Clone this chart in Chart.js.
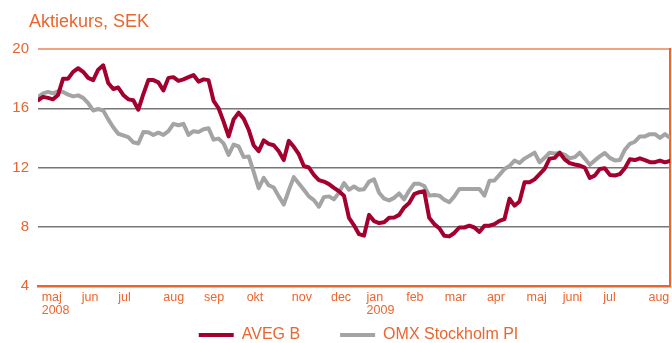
<!DOCTYPE html>
<html>
<head>
<meta charset="utf-8">
<script src="https://cdn.jsdelivr.net/npm/chart.js@4/dist/chart.umd.min.js"></script>
<style>
  body { margin: 0; background: #fff; }
  canvas { display: block; }
</style>
</head>
<body>
<canvas id="kurs" width="672" height="343"></canvas>
<script>
// share price, SEK - sampled roughly twice a week from May 2008 to Aug 2009
const aveg = [
  16.54, 16.77, 16.7, 16.6, 16.9, 18.0, 18.0, 18.46, 18.7, 18.46,
  18.05, 17.9, 18.6, 18.9, 17.7, 17.3, 17.4, 16.9, 16.6, 16.54,
  15.9, 16.95, 17.9, 17.9, 17.75, 17.2, 18.05, 18.1, 17.85, 17.95,
  18.1, 18.24, 17.8, 17.95, 17.9, 16.5, 16.0, 15.1, 14.1, 15.25,
  15.7, 15.3, 14.55, 13.5, 13.1, 13.83, 13.6, 13.5, 13.1, 12.5,
  13.8, 13.4, 12.9, 12.1, 12.0, 11.5, 11.15, 11.05, 10.88, 10.62,
  10.4, 10.1, 8.6, 8.1, 7.5, 7.4, 8.8, 8.38, 8.25, 8.3,
  8.6, 8.63, 8.8, 9.3, 9.6, 10.2, 10.33, 10.4, 8.6, 8.18,
  7.9, 7.39, 7.35, 7.58, 7.95, 7.95, 8.07, 7.95, 7.65, 8.07,
  8.07, 8.18, 8.4, 8.52, 9.9, 9.42, 9.7, 11.0, 11.0, 11.2,
  11.55, 11.9, 12.6, 12.65, 13.0, 12.55, 12.3, 12.2, 12.13, 12.0,
  11.3, 11.45, 11.9, 11.95, 11.5, 11.46, 11.55, 11.95, 12.55, 12.5,
  12.62, 12.5, 12.36, 12.36, 12.47, 12.35, 12.45
]
const omx = [
  16.77, 17.0, 17.1, 17.0, 17.15, 17.1, 16.92, 16.8, 16.87, 16.7,
  16.35, 15.85, 15.95, 15.85, 15.25, 14.72, 14.28, 14.17, 14.05, 13.7,
  13.62, 14.4, 14.38, 14.2, 14.35, 14.2, 14.45, 14.95, 14.85, 14.95,
  14.2, 14.45, 14.4, 14.58, 14.65, 13.88, 13.95, 13.63, 12.85, 13.55,
  13.42, 12.7, 12.75, 11.7, 10.6, 11.3, 10.8, 10.65, 10.05, 9.5,
  10.46, 11.35, 10.92, 10.5, 10.05, 9.8, 9.35, 10.0, 10.05, 9.85,
  10.3, 10.95, 10.5, 10.72, 10.5, 10.53, 11.05, 11.2, 10.3, 9.9,
  9.78, 9.95, 10.25, 9.85, 10.44, 10.9, 10.9, 10.75, 10.1, 10.15,
  10.1, 9.82, 9.65, 10.05, 10.55, 10.55, 10.55, 10.55, 10.55, 10.1,
  11.1, 11.12, 11.5, 11.9, 12.1, 12.47, 12.3, 12.6, 12.8, 13.0,
  12.35, 12.65, 13.0, 12.95, 12.97, 12.87, 12.62, 12.7, 13.0, 12.6,
  12.18, 12.48, 12.75, 12.98, 12.65, 12.48, 12.5, 13.2, 13.6, 13.74,
  14.1, 14.1, 14.25, 14.25, 14.0, 14.25, 14.0
]

// month ticks, in sample index units
const monthNames = ['maj', 'jun', 'jul', 'aug', 'sep', 'okt', 'nov', 'dec',
                    'jan', 'feb', 'mar', 'apr', 'maj', 'juni', 'jul', 'aug']
const monthPos = [0.74, 8.71, 16.0, 24.98, 33.1, 41.6, 50.6, 58.4,
                  65.5, 73.4, 81.1, 89.5, 97.4, 104.6, 112.7, 121.7]
const yearAt = { 0: '2008', 8: '2009' }

const orange = '#e9662f'
const fontFam = "'Liberation Sans', Arial, sans-serif"

const titlePlugin = {
    id: 'titleText',
    afterDraw(chart) {
        const ctx = chart.ctx
        ctx.save()
        ctx.font = '18px ' + fontFam
        ctx.fillStyle = orange
        ctx.textBaseline = 'alphabetic'
        ctx.fillText('Aktiekurs, SEK', 29, 27)
        ctx.restore()
    }
}

const labels = aveg.map((v, i) => i)

new Chart(document.getElementById('kurs'), {
    type: 'line',
    data: {
        labels: labels,
        datasets: [{
            label: 'AVEG B',
            data: aveg,
            borderColor: '#a3002f',
            backgroundColor: '#a3002f',
            borderWidth: 4,
            borderCapStyle: 'round',
            borderJoinStyle: 'round',
            pointRadius: 0,
            tension: 0
        }, {
            label: 'OMX Stockholm PI',
            data: omx,
            borderColor: '#a4a4a4',
            backgroundColor: '#a4a4a4',
            borderWidth: 4,
            borderCapStyle: 'round',
            borderJoinStyle: 'round',
            pointRadius: 0,
            tension: 0
        }]
    },
    options: {
        responsive: false,
        animation: false,
        layout: { padding: { top: 49, bottom: -10, left: 0, right: -45 } },
        plugins: {
            title: { display: false },
            tooltip: { enabled: false },
            legend: {
                position: 'bottom',
                labels: {
                    usePointStyle: true,
                    pointStyle: 'line',
                    pointStyleWidth: 35,
                    padding: 40,
                    color: orange,
                    font: { family: fontFam, size: 16 }
                }
            }
        },
        scales: {
            x: {
                type: 'linear',
                min: 0,
                max: aveg.length - 1,
                grid: { display: false },
                border: { display: true, color: orange, width: 2.5 },
                afterBuildTicks: (axis) => {
                    axis.ticks = monthPos.map(v => ({ value: v }))
                },
                afterFit: (scale) => { scale.height = 1 },
                ticks: {
                    autoSkip: false,
                    maxRotation: 0,
                    align: 'start',
                    mirror: true,
                    padding: -18,
                    color: orange,
                    font: { family: fontFam, size: 12.5, lineHeight: 1.0 },
                    callback: (value, index) => yearAt[index] ? [monthNames[index], yearAt[index]] : monthNames[index]
                }
            },
            y: {
                min: 4,
                max: 20,
                afterFit: (scale) => { scale.width = 38 },
                border: { display: false },
                grid: {
                    drawTicks: false,
                    color: (c) => c.tick.value === 20 ? '#f2a385' : (c.tick.value === 4 ? '#6b3a24' : '#777777'),
                    lineWidth: (c) => c.tick.value === 20 ? 2 : 1.5
                },
                ticks: {
                    stepSize: 4,
                    padding: 9,
                    color: orange,
                    font: { family: fontFam, size: 15 }
                }
            },
            yRight: {
                position: 'right',
                min: 4,
                max: 20,
                grid: { display: false },
                ticks: { display: false },
                border: { display: true, color: orange, width: 2 },
                afterFit: (scale) => { scale.width = 47 }
            }
        }
    },
    plugins: [titlePlugin]
})
</script>
</body>
</html>
